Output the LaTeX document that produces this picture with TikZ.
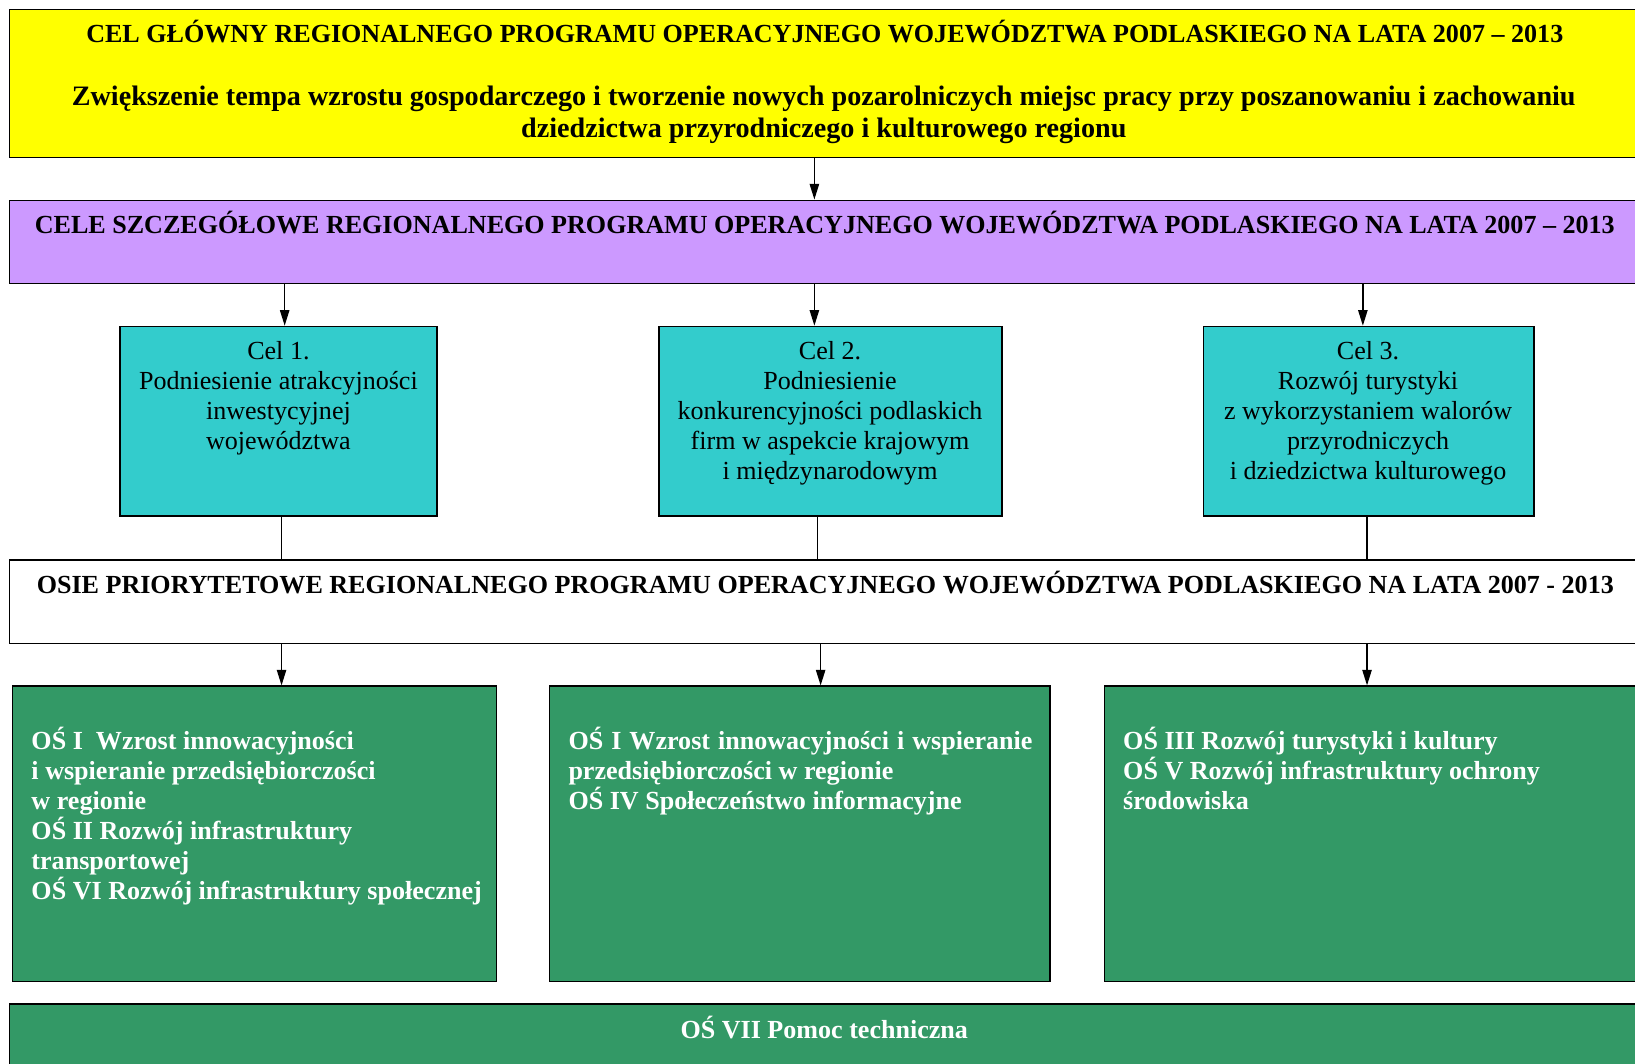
\documentclass[tikz,border=0pt]{standalone}
\usepackage{fontspec}
\setmainfont{Liberation Serif}
\usetikzlibrary{arrows.meta}
\definecolor{ycol}{HTML}{FFFF00}
\definecolor{pcol}{HTML}{CC99FF}
\definecolor{ccol}{HTML}{33CCCC}
\definecolor{gcol}{HTML}{339966}
\tikzset{
  box/.style={draw=black, line width=1.3pt, rectangle, inner sep=0pt},
  txt/.style={inner sep=0pt, font=\fontsize{25}{28.7}\selectfont},
  btxt/.style={txt, font=\fontsize{25}{28.7}\selectfont\bfseries},
  wtxt/.style={btxt, text=white},
  conn/.style={draw=black, line width=1.3pt},
  arr/.style={conn, -{Triangle[length=15pt,width=9pt]}}
}
\newcommand{\fl}{\rule{0pt}{24pt}}
\begin{document}
\begin{tikzpicture}[x=1pt,y=-1pt]
\useasboundingbox (0,0) rectangle (1568,1020);
\clip (0,0) rectangle (1568,1020);
% boxes
\node[box, fill=ycol, minimum width=1564pt, minimum height=142pt] (goal) at (791,80) {};
\node[box, fill=pcol, minimum width=1564pt, minimum height=80pt] (spec) at (791,232) {};
\node[box, fill=ccol, minimum width=304pt, minimum height=182pt] (cel1) at (267,404) {};
\node[box, fill=ccol, minimum width=329pt, minimum height=182pt] (cel2) at (796.5,404) {};
\node[box, fill=ccol, minimum width=317pt, minimum height=182pt] (cel3) at (1312.5,404) {};
\node[box, fill=white, minimum width=1564pt, minimum height=80pt] (osie) at (791,577) {};
\node[box, fill=gcol, minimum width=464pt, minimum height=283pt] (g1) at (244,799.5) {};
\node[box, fill=gcol, minimum width=480pt, minimum height=283pt] (g2) at (767,799.5) {};
\node[box, fill=gcol, minimum width=521pt, minimum height=283pt] (g3) at (1319.5,799.5) {};
\node[box, fill=gcol, minimum width=1564pt, minimum height=77pt] (pt) at (791,1001.5) {};
% connector x positions
\coordinate (xa) at (781,0);
\coordinate (x1) at (273,0);
\coordinate (x2) at (781,0);
\coordinate (x3) at (1307,0);
\coordinate (y1) at (270,0);
\coordinate (y2) at (784,0);
\coordinate (y3) at (1311,0);
\coordinate (z1) at (270,0);
\coordinate (z2) at (787,0);
\coordinate (z3) at (1311,0);
\draw[arr] (goal.south -| xa) -- (spec.north -| xa);
\draw[arr] (spec.south -| x1) -- (cel1.north -| x1);
\draw[arr] (spec.south -| x2) -- (cel2.north -| x2);
\draw[arr] (spec.south -| x3) -- (cel3.north -| x3);
\draw[conn] (cel1.south -| y1) -- (osie.north -| y1);
\draw[conn] (cel2.south -| y2) -- (osie.north -| y2);
\draw[conn] (cel3.south -| y3) -- (osie.north -| y3);
\draw[arr] (osie.south -| z1) -- (g1.north -| z1);
\draw[arr] (osie.south -| z2) -- (g2.north -| z2);
\draw[arr] (osie.south -| z3) -- (g3.north -| z3);
% texts
\node[btxt, anchor=base] (t0) at (791,41) {CEL GŁÓWNY REGIONALNEGO PROGRAMU OPERACYJNEGO WOJEWÓDZTWA PODLASKIEGO NA LATA 2007 – 2013};
\node[btxt, anchor=north, align=center, font=\fontsize{27}{30.5}\selectfont\bfseries] (t1) at (790,77) {\fl Zwiększenie tempa wzrostu gospodarczego i tworzenie nowych pozarolniczych miejsc pracy przy poszanowaniu i zachowaniu\\dziedzictwa przyrodniczego i kulturowego regionu};
\node[btxt, anchor=base] (t2) at (791,224) {CELE SZCZEGÓŁOWE REGIONALNEGO PROGRAMU OPERACYJNEGO WOJEWÓDZTWA PODLASKIEGO NA LATA 2007 – 2013};
\node[txt, anchor=north, align=center] (tc1) at (267,321) {\fl Cel 1.\\Podniesienie atrakcyjności\\inwestycyjnej\\województwa};
\node[txt, anchor=north, align=center] (tc2) at (796,321) {\fl Cel 2.\\Podniesienie\\konkurencyjności podlaskich\\firm w aspekcie krajowym\\i międzynarodowym};
\node[txt, anchor=north, align=center] (tc3) at (1312,321) {\fl Cel 3.\\Rozwój turystyki\\z wykorzystaniem walorów\\przyrodniczych\\i dziedzictwa kulturowego};
\node[btxt, anchor=base] (t3) at (791.5,569) {OSIE PRIORYTETOWE REGIONALNEGO PROGRAMU OPERACYJNEGO WOJEWÓDZTWA PODLASKIEGO NA LATA 2007 - 2013};
\node[wtxt, anchor=north west, align=left] (tg1) at (30,695) {\fl OŚ I~ Wzrost innowacyjności\\i wspieranie przedsiębiorczości\\w regionie\\OŚ II Rozwój infrastruktury\\transportowej\\OŚ VI Rozwój infrastruktury społecznej};
\node[wtxt, anchor=north west, align=left] (tg2) at (545,695) {\fl \makebox[445pt][s]{OŚ I Wzrost innowacyjności i wspieranie}\\przedsiębiorczości w regionie\\OŚ IV Społeczeństwo informacyjne};
\node[wtxt, anchor=north west, align=left] (tg3) at (1077,695) {\fl OŚ III Rozwój turystyki i kultury\\OŚ V Rozwój infrastruktury ochrony\\środowiska};
\node[wtxt, anchor=base] (t4) at (790.5,996) {OŚ VII Pomoc techniczna};
\end{tikzpicture}
\end{document}
